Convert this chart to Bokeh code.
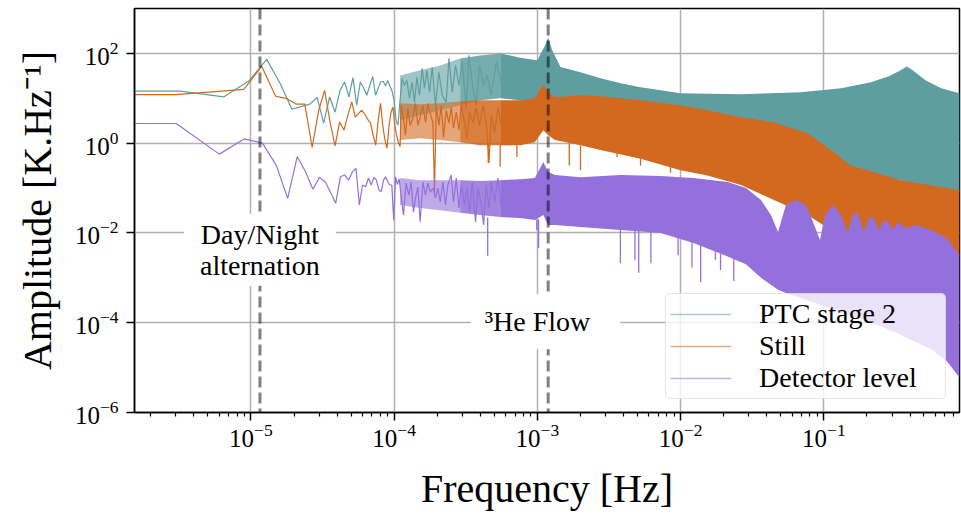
from bokeh.plotting import figure
from bokeh.models import FixedTicker, LogTickFormatter, Span, Label, Legend, LegendItem, Range1d
from bokeh.embed import file_html
from bokeh.resources import INLINE

# ---------------- data ----------------
SERIES_NAMES = ["PTC stage 2", "Still", "Detector level"]
SERIES_COLORS = ["#5F9EA0", "#D2691E", "#9370DB"]

X_TICKS = [1e-5, 1e-4, 1e-3, 1e-2, 1e-1]
X_MINOR = [2e-6, 3e-6, 4e-6, 5e-6, 6e-6, 7e-6, 8e-6, 9e-6,
           2e-5, 3e-5, 4e-5, 5e-5, 6e-5, 7e-5, 8e-5, 9e-5,
           2e-4, 3e-4, 4e-4, 5e-4, 6e-4, 7e-4, 8e-4, 9e-4,
           2e-3, 3e-3, 4e-3, 5e-3, 6e-3, 7e-3, 8e-3, 9e-3,
           2e-2, 3e-2, 4e-2, 5e-2, 6e-2, 7e-2, 8e-2, 9e-2,
           2e-1, 3e-1, 4e-1, 5e-1, 6e-1, 7e-1, 8e-1]
Y_TICKS = [1e-6, 1e-4, 1e-2, 1e0, 1e2]

DAY_NIGHT_FREQ = 1.157e-5
HE3_FLOW_FREQ = 1.19e-3

# low-frequency bins: individual FFT points
ptc_freq = [1.54e-6, 3.22e-6, 6.45e-6, 9.67e-6, 12.90e-6, 16.12e-6, 19.34e-6, 22.57e-6, 25.79e-6,
            29.02e-6, 32.24e-6, 35.46e-6, 38.69e-6, 41.91e-6, 45.14e-6, 48.36e-6, 51.58e-6,
            54.81e-6, 58.03e-6, 61.26e-6, 64.48e-6, 67.70e-6, 70.93e-6, 74.15e-6, 77.38e-6,
            80.60e-6, 83.82e-6, 87.05e-6, 90.27e-6, 93.50e-6, 96.72e-6, 99.94e-6, 103.17e-6,
            106.39e-6, 109.62e-6]
ptc_amp = [14.5, 14.5, 10.7, 24.2, 73.6, 20.5, 5.7, 6.6, 7.4, 10.4, 2.8, 10.7, 4.9, 15, 23, 10.7,
           28.8, 7, 23, 16.7, 11.7, 19.5, 30.8, 11.7, 16.7, 23, 24, 19, 25, 18.5, 14.5, 9, 3.2, 2.5, 8]
# visible peaks / troughs between 1.1e-4 and 6e-4 Hz
ptc_mid_freq = [1.137e-4, 1.18e-4, 1.227e-4, 1.279e-4, 1.336e-4, 1.387e-4, 1.441e-4, 1.503e-4,
                1.57e-4, 1.629e-4, 1.693e-4, 1.766e-4, 1.844e-4, 1.945e-4, 2.054e-4, 2.167e-4,
                2.31e-4, 2.413e-4, 2.545e-4, 2.684e-4, 2.835e-4, 2.99e-4, 3.188e-4, 3.33e-4,
                3.551e-4, 3.745e-4, 3.95e-4, 4.212e-4, 4.45e-4, 4.768e-4, 5.168e-4, 5.6e-4, 6.07e-4]
ptc_mid_amp = [27.8, 19.4, 25, 10, 22.7, 8.1, 29.3, 11.7, 46.4, 16.7, 41.9, 13.6, 48.9, 7.0, 37.8,
               11.7, 8.1, 77.4, 13.6, 54.1, 19.4, 63.1, 6.0, 90.3, 16.7, 7.0, 54.1, 19.4, 32.5,
               11.7, 63.1, 22.7, 54.1]

still_freq = [1.54e-6, 2.98e-6, 5.95e-6, 8.93e-6, 11.90e-6, 14.88e-6, 17.85e-6, 20.83e-6, 23.80e-6,
              26.78e-6, 29.75e-6, 32.73e-6, 35.70e-6, 38.68e-6, 41.65e-6, 44.63e-6, 47.60e-6,
              50.58e-6, 53.55e-6, 56.53e-6, 59.50e-6, 62.48e-6, 65.45e-6, 68.43e-6, 71.40e-6,
              74.38e-6, 77.35e-6, 80.33e-6, 83.30e-6, 86.28e-6, 89.25e-6, 92.23e-6, 95.20e-6,
              98.18e-6, 101.15e-6, 104.13e-6, 107.10e-6, 110.08e-6]
still_amp = [12.1, 12.1, 14.3, 15.8, 51.4, 11.1, 9.8, 7.4, 7.4, 0.80, 5.4, 15.1, 2.97, 0.87, 2.97,
             1.95, 4.2, 8.3, 3.8, 4.6, 5.4, 4.4, 3.4, 2.8, 1.5, 0.9, 3.2, 7.7, 2.5, 1.17, 0.77, 2.5,
             4.9, 6.4, 2.5, 1.5, 1.05, 0.83]
still_mid_freq = [1.12e-4, 1.162e-4, 1.2e-4, 1.247e-4, 1.294e-4, 1.352e-4, 1.409e-4, 1.464e-4,
                  1.52e-4, 1.588e-4, 1.656e-4, 1.721e-4, 1.785e-4, 1.865e-4, 1.914e-4, 1.967e-4,
                  2.054e-4, 2.132e-4, 2.213e-4, 2.31e-4, 2.413e-4, 2.504e-4, 2.598e-4, 2.714e-4,
                  2.835e-4, 2.942e-4, 3.102e-4, 3.224e-4, 3.362e-4, 3.551e-4, 3.745e-4, 3.95e-4,
                  4.173e-4, 4.4e-4, 4.596e-4, 4.768e-4, 5.028e-4, 5.311e-4, 5.6e-4, 5.906e-4]
still_mid_amp = [7.0, 3.6, 1.5, 6.0, 2.5, 3.6, 7.7, 2.5, 3.8, 7.0, 2.9, 7.7, 4.6, 2.9, 0.08, 7.0,
                 2.5, 7.0, 1.36, 5.4, 2.8, 6.3, 2.15, 4.9, 1.95, 7.0, 2.9, 1.29, 4.9, 2.9, 6.0, 2.5,
                 7.0, 2.9, 0.36, 4.2, 1.75, 6.0, 2.5, 7.0]

det_freq = [1.54e-6, 3.01e-6, 6.02e-6, 9.03e-6, 12.04e-6, 15.05e-6, 18.06e-6, 21.07e-6, 24.08e-6,
            27.09e-6, 30.10e-6, 33.11e-6, 36.12e-6, 39.13e-6, 42.14e-6, 45.15e-6, 48.16e-6,
            51.17e-6, 54.18e-6, 57.19e-6, 60.20e-6, 63.21e-6, 66.22e-6, 69.23e-6, 72.24e-6,
            75.25e-6, 78.26e-6, 81.27e-6, 84.28e-6, 87.29e-6, 90.30e-6, 93.31e-6, 96.32e-6,
            99.33e-6, 102.34e-6, 105.35e-6, 108.36e-6]
det_amp = [2.74, 2.74, 0.57, 1.25, 1.0, 0.32, 0.059, 0.50, 0.23, 0.094, 0.173, 0.136, 0.078, 0.046,
           0.178, 0.195, 0.15, 0.23, 0.274, 0.042, 0.117, 0.107, 0.167, 0.117, 0.173, 0.15, 0.09,
           0.083, 0.15, 0.178, 0.136, 0.117, 0.117, 0.0195, 0.178, 0.12, 0.16]
det_mid_freq = [1.162e-4, 1.213e-4, 1.267e-4, 1.315e-4, 1.365e-4, 1.409e-4, 1.464e-4, 1.52e-4,
                1.588e-4, 1.656e-4, 1.721e-4, 1.785e-4, 1.865e-4, 1.945e-4, 2.021e-4, 2.098e-4,
                2.191e-4, 2.285e-4, 2.374e-4, 2.504e-4, 2.598e-4, 2.714e-4, 2.835e-4, 2.942e-4,
                3.102e-4, 3.224e-4, 3.362e-4, 3.512e-4, 3.703e-4, 3.848e-4, 4.06e-4, 4.212e-4,
                4.4e-4, 4.596e-4, 4.768e-4, 5.028e-4, 5.311e-4, 5.6e-4, 5.906e-4]
det_mid_amp = [0.025, 0.129, 0.07, 0.136, 0.029, 0.06, 0.105, 0.0175, 0.136, 0.07, 0.129, 0.081,
               0.1, 0.06, 0.1, 0.049, 0.136, 0.042, 0.117, 0.195, 0.049, 0.167, 0.036, 0.117,
               0.042, 0.1, 0.029, 0.136, 0.0175, 0.1, 0.042, 0.015, 0.117, 0.036, 0.136, 0.049,
               0.167, 0.036, 0.136]

# dense part of the spectra: upper / lower envelopes of the noise
ptc_band_freq = [1.10e-4, 1.52e-4, 2.10e-4, 2.89e-4, 3.99e-4, 5.50e-4, 7.59e-4, 1.00e-3, 1.13e-3,
                 1.19e-3, 1.27e-3, 1.45e-3, 2.00e-3, 2.76e-3, 3.81e-3, 5.25e-3, 1.00e-2, 2.64e-2,
                 6.90e-2, 0.132, 0.213, 0.284, 0.344, 0.379, 0.417, 0.515, 0.660, 0.885]
ptc_band_hi = [32, 42, 54, 77, 90, 100, 80, 70, 150, 227, 117, 50, 38, 28, 21.5, 17.6, 12.9, 12.3,
               13.6, 16.7, 22.7, 31, 42, 51, 42, 25, 16.7, 12.9]
ptc_band_lo = [3.2, 4.2, 5.4, 7.0, 9.0, 10, 9.0, 9.0, 9.0, 11.7, 9.0, 7.0, 5.4, 4.2, 3.2, 2.5, 1.95,
               1.5, 0.7, 0.32, 0.227, 0.167, 0.15, 0.136, 0.129, 0.111, 0.1, 0.081]

still_band_freq = [1.10e-4, 1.52e-4, 2.10e-4, 2.89e-4, 3.99e-4, 5.50e-4, 7.59e-4, 9.60e-4, 1.10e-3,
                   1.19e-3, 1.33e-3, 2.00e-3, 2.76e-3, 5.25e-3, 1.00e-2, 1.54e-2, 2.64e-2, 4.48e-2,
                   7.70e-2, 0.112, 0.154, 0.222, 0.344, 0.660, 0.885]
still_band_hi = [7.7, 7.4, 7.7, 8.6, 9.0, 9.0, 9.0, 10, 20.5, 13.6, 10.5, 11.7, 11.1, 9.0, 7.0, 5.4,
                 3.8, 2.9, 1.67, 0.7, 0.32, 0.227, 0.15, 0.105, 0.09]
still_band_lo = [1.17, 1.29, 1.17, 1.05, 0.9, 0.9, 0.9, 1.05, 1.95, 1.5, 1.17, 0.9, 0.7, 0.45, 0.25,
                 0.19, 0.117, 0.054, 0.025, 0.0117, 0.009, 0.0077, 0.007, 0.0054, 0.0031]

det_band_freq = [1.10e-4, 1.52e-4, 2.10e-4, 2.89e-4, 3.99e-4, 5.50e-4, 7.59e-4, 9.60e-4, 1.10e-3,
                 1.19e-3, 1.33e-3, 2.00e-3, 3.81e-3, 7.24e-3, 1.23e-2, 2.13e-2, 2.86e-2, 3.64e-2,
                 4.27e-2, 4.79e-2, 5.43e-2, 6.38e-2, 7.50e-2, 8.40e-2, 9.40e-2, 0.102, 0.116, 0.132,
                 0.147, 0.159, 0.173, 0.190, 0.206, 0.222, 0.242, 0.262, 0.284, 0.303, 0.328, 0.373,
                 0.437, 0.560, 0.720, 0.885]
det_band_hi = [0.167, 0.15, 0.15, 0.15, 0.143, 0.15, 0.158, 0.167, 0.38, 0.227, 0.195, 0.175, 0.195,
               0.185, 0.167, 0.136, 0.1, 0.054, 0.025, 0.0105, 0.042, 0.054, 0.042, 0.0175, 0.007,
               0.025, 0.042, 0.025, 0.01, 0.025, 0.029, 0.0105, 0.0215, 0.0227, 0.0117, 0.0195,
               0.0175, 0.0117, 0.0175, 0.0129, 0.015, 0.0117, 0.0077, 0.0032]
det_band_lo = [0.042, 0.036, 0.032, 0.028, 0.025, 0.0227, 0.0215, 0.0195, 0.025, 0.015, 0.015, 0.0136,
               0.0117, 0.01, 0.006, 0.003, 0.002, 0.001, 7e-4, 5.4e-4, 4.6e-4, 3.9e-4, 3.2e-4, 2.9e-4,
               2.5e-4, 2.3e-4, 1.95e-4, 1.65e-4, 1.5e-4, 1.35e-4, 1.3e-4, 1.17e-4, 1.05e-4, 9.6e-5,
               8.6e-5, 7.8e-5, 7e-5, 6.4e-5, 5.8e-5, 4.7e-5, 3.7e-5, 2.6e-5, 1.4e-5, 6e-6]

# deep single-bin dips below the envelopes
still_dip_freq = [4.54e-4, 5.50e-4, 7.20e-4, 1.67e-3, 2.0e-3, 3.6e-3, 5.25e-3, 8.5e-3]
still_dip_from = [1.0, 1.0, 1.0, 1.0, 0.9, 0.75, 0.5, 0.3]
still_dip_amp = [0.36, 0.30, 0.49, 0.32, 0.25, 0.49, 0.32, 0.22]

det_dip_freq = [4.5e-4, 9.9e-4, 1.02e-3, 3.8e-3, 4.8e-3, 5.1e-3, 6.2e-3, 9.6e-3,
                1.2e-2, 1.38e-2, 1.75e-2, 1.9e-2, 2.35e-2]
det_dip_from = [0.022, 0.02, 0.02, 0.012, 0.012, 0.012, 0.011, 0.01, 0.007, 0.006,
                0.004, 0.0035, 0.0028]
det_dip_amp = [0.0031, 0.0117, 0.0046, 0.0021, 0.0025, 0.0013, 0.0021, 0.0032,
               0.0017, 0.0008, 0.0025, 0.0015, 0.00085]

# how solid the dense part looks: (start, end, opacity)
BAND_ZONES = [(1.10e-4, 2.89e-4, 0.6), (2.89e-4, 5.50e-4, 0.85), (5.50e-4, 1.0, 1.0)]

# ---------------- figure ----------------
FONT = "Liberation Serif"

p = figure(width=961, height=515, x_axis_type="log", y_axis_type="log",
           x_range=Range1d(1.54e-6, 0.885), y_range=Range1d(1e-6, 1e3),
           output_backend="svg", toolbar_location=None,
           min_border_left=134, min_border_right=2, min_border_top=8, min_border_bottom=103,
           background_fill_color="white", border_fill_color="white")

p.outline_line_color = "black"
p.outline_line_width = 1.5

for g in (p.xgrid, p.ygrid):
    g.grid_line_color = "#b0b0b0"
    g.grid_line_width = 1.5

p.xaxis.ticker = FixedTicker(ticks=X_TICKS, minor_ticks=X_MINOR)
p.yaxis.ticker = FixedTicker(ticks=Y_TICKS, minor_ticks=[])
p.xaxis.formatter = LogTickFormatter()
p.yaxis.formatter = LogTickFormatter()

for ax in (p.xaxis, p.yaxis):
    ax.axis_line_color = "black"
    ax.axis_line_width = 1.5
    ax.major_tick_line_width = 1.5
    ax.minor_tick_line_width = 1.2
    ax.major_tick_out = 8
    ax.major_tick_in = 0
    ax.minor_tick_out = 4
    ax.minor_tick_in = 0
    ax.major_label_text_font = FONT
    ax.major_label_text_font_size = "25px"
    ax.major_label_text_color = "black"
    ax.axis_label_text_font = FONT
    ax.axis_label_text_font_size = "40px"
    ax.axis_label_text_font_style = "normal"
    ax.axis_label_text_color = "black"

p.xaxis.axis_label = "Frequency [Hz]"
p.yaxis.axis_label = "Amplitude [K.Hz\u207b\u00b9]"
p.xaxis.major_label_standoff = 3
p.yaxis.major_label_standoff = 8
p.xaxis.axis_label_standoff = 16
p.yaxis.axis_label_standoff = 12

line_f = [ptc_freq + ptc_mid_freq, still_freq + still_mid_freq, det_freq + det_mid_freq]
line_a = [ptc_amp + ptc_mid_amp, still_amp + still_mid_amp, det_amp + det_mid_amp]
band_f = [ptc_band_freq, still_band_freq, det_band_freq]
band_hi = [ptc_band_hi, still_band_hi, det_band_hi]
band_lo = [ptc_band_lo, still_band_lo, det_band_lo]

legend_items = []
for i, (name, color) in enumerate(zip(SERIES_NAMES, SERIES_COLORS)):
    for (f_start, f_end, alpha) in BAND_ZONES:
        idx = [j for j, f in enumerate(band_f[i]) if f_start <= f <= f_end]
        p.varea(x=[band_f[i][j] for j in idx], y1=[band_lo[i][j] for j in idx],
                y2=[band_hi[i][j] for j in idx], fill_color=color, fill_alpha=alpha)
    p.line(x=line_f[i], y=line_a[i], line_color=color, line_width=1.2)
    if i == 1:
        p.segment(x0=still_dip_freq, y0=still_dip_from, x1=still_dip_freq, y1=still_dip_amp,
                  line_color=color, line_width=1.3)
    if i == 2:
        p.segment(x0=det_dip_freq, y0=det_dip_from, x1=det_dip_freq, y1=det_dip_amp,
                  line_color=color, line_width=1.3)
    proxy = p.line(x=[1e-9, 2e-9], y=[1e-9, 1e-9], line_color=color, line_width=1.5,
                   line_alpha=0.55)
    legend_items.append(LegendItem(label=name, renderers=[proxy]))

# marker lines
for f0 in (DAY_NIGHT_FREQ, HE3_FLOW_FREQ):
    p.add_layout(Span(location=f0, dimension="height", line_color="black", line_alpha=0.5,
                      line_width=3, line_dash="11 5"))

p.add_layout(Label(x=DAY_NIGHT_FREQ, y=4.2e-3, text="Day/Night\nalternation",
                   text_align="center", text_baseline="middle", text_font=FONT,
                   text_font_size="28px", text_color="black", text_line_height=1.0,
                   background_fill_color="white", background_fill_alpha=1.0,
                   padding=dict(left=16, right=16, top=5, bottom=5)))
p.add_layout(Label(x=1.14e-3, y=1.05e-4, text="\u00b3He Flow",
                   text_align="center", text_baseline="middle", text_font=FONT,
                   text_font_size="28px", text_color="black",
                   background_fill_color="white", background_fill_alpha=1.0,
                   padding=dict(left=14, right=30, top=12, bottom=12)))

legend = Legend(items=legend_items, location="bottom_right", margin=13, padding=4,
                spacing=0, label_height=30, glyph_height=30, glyph_width=61, label_width=182,
                label_standoff=28, label_text_font=FONT, label_text_font_size="28px",
                label_text_color="black",
                background_fill_color="white", background_fill_alpha=0.8,
                border_line_color="#cccccc", border_line_width=1.5, border_radius=5)
p.add_layout(legend)

open("out.html", "w").write(file_html(p, INLINE))
